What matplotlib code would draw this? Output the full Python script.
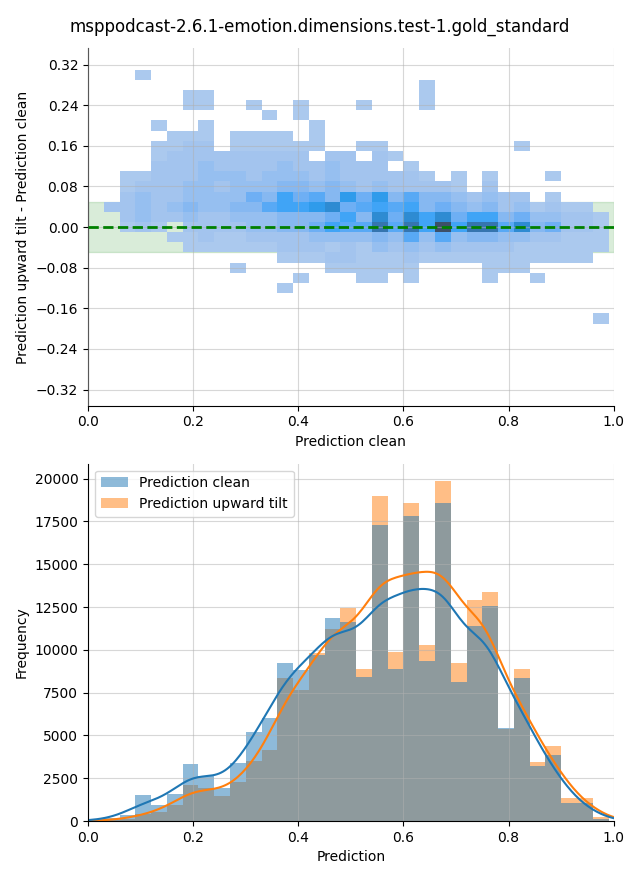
import numpy as np
import matplotlib
matplotlib.use("Agg")
import matplotlib.pyplot as plt
from matplotlib.colors import LinearSegmentedColormap
from matplotlib.patches import Patch

title = "msppodcast-2.6.1-emotion.dimensions.test-1.gold_standard"

# bin edges shared by both panels (prediction axis)
pred_edges = np.linspace(0.0, 0.99, 34)
diff_edges = np.linspace(-0.19, 0.31, 26)

# 2D histogram of (clean, tilt - clean), relative density per cell, top row = 0.30
cell_level = [
    # 0  1  2  3  4  5  6  7  8  9 10 11 12 13 14 15 16 17 18 19 20 21 22 23 24 25 26 27 28 29 30 31 32
    [0, 0, 0, 1, 0, 0, 0, 0, 0, 0, 0, 0, 0, 0, 0, 0, 0, 0, 0, 0, 0, 0, 0, 0, 0, 0, 0, 0, 0, 0, 0, 0, 0],  # 0.30
    [0, 0, 0, 0, 0, 0, 0, 0, 0, 0, 0, 0, 0, 0, 0, 0, 0, 0, 0, 0, 0, 1, 0, 0, 0, 0, 0, 0, 0, 0, 0, 0, 0],  # 0.28
    [0, 0, 0, 0, 0, 0, 1, 1, 0, 0, 0, 0, 0, 0, 0, 0, 0, 0, 0, 0, 0, 1, 0, 0, 0, 0, 0, 0, 0, 0, 0, 0, 0],  # 0.26
    [0, 0, 0, 0, 0, 0, 1, 1, 0, 0, 1, 0, 0, 1, 0, 0, 0, 1, 0, 0, 0, 1, 0, 0, 0, 0, 0, 0, 0, 0, 0, 0, 0],  # 0.24
    [0, 0, 0, 0, 0, 0, 0, 0, 0, 0, 0, 1, 0, 1, 0, 0, 0, 0, 0, 0, 0, 0, 0, 0, 0, 0, 0, 0, 0, 0, 0, 0, 0],  # 0.22
    [0, 0, 0, 0, 1, 0, 0, 1, 0, 0, 0, 0, 0, 0, 1, 0, 0, 0, 0, 0, 0, 0, 0, 0, 0, 0, 0, 0, 0, 0, 0, 0, 0],  # 0.20
    [0, 0, 0, 0, 0, 1, 1, 1, 0, 1, 1, 1, 1, 0, 1, 0, 0, 0, 0, 0, 0, 0, 0, 0, 0, 0, 0, 0, 0, 0, 0, 0, 0],  # 0.18
    [0, 0, 0, 0, 1, 1, 2, 2, 0, 1, 1, 1, 1, 1, 1, 0, 0, 1, 1, 0, 0, 0, 0, 0, 0, 0, 0, 1, 0, 0, 0, 0, 0],  # 0.16
    [0, 0, 0, 0, 1, 2, 2, 2, 2, 2, 2, 2, 2, 2, 0, 2, 2, 0, 2, 1, 0, 0, 0, 0, 0, 0, 0, 0, 0, 0, 0, 0, 0],  # 0.14
    [0, 0, 0, 0, 2, 2, 2, 3, 2, 2, 2, 2, 3, 2, 2, 3, 2, 2, 2, 0, 1, 0, 0, 0, 0, 0, 0, 0, 0, 0, 0, 0, 0],  # 0.12
    [0, 0, 1, 1, 2, 2, 2, 3, 3, 3, 2, 3, 3, 3, 2, 3, 2, 2, 2, 2, 2, 1, 0, 1, 0, 1, 0, 0, 0, 1, 0, 0, 0],  # 0.10
    [0, 0, 1, 2, 2, 2, 3, 3, 2, 3, 3, 3, 4, 4, 3, 4, 3, 2, 3, 2, 2, 2, 2, 1, 0, 2, 0, 0, 0, 0, 0, 0, 0],  # 0.08
    [0, 0, 2, 3, 2, 2, 3, 3, 3, 3, 5, 4, 7, 5, 6, 4, 8, 5, 8, 4, 6, 4, 4, 3, 2, 3, 2, 2, 0, 1, 0, 0, 0],  # 0.06
    [0, 2, 2, 3, 2, 3, 4, 3, 3, 4, 4, 6, 7, 7, 8, 9, 5, 6, 7, 6, 7, 4, 5, 4, 3, 4, 2, 3, 1, 2, 1, 1, 0],  # 0.04
    [0, 0, 2, 3, 2, 2, 3, 2, 2, 3, 3, 3, 4, 4, 4, 5, 7, 4, 9, 5, 9, 7, 9, 5, 7, 7, 4, 5, 3, 3, 2, 2, 1],  # 0.02
    [0, 0, 1, 2, 1, 0, 2, 2, 2, 2, 3, 3, 4, 4, 5, 7, 6, 6, 10, 6, 10, 7, 11, 7, 10, 10, 6, 9, 4, 5, 2, 2, 1],  # 0.00
    [0, 0, 0, 0, 0, 1, 1, 2, 1, 1, 2, 2, 2, 2, 3, 3, 3, 3, 4, 3, 6, 3, 6, 3, 4, 4, 3, 3, 2, 2, 1, 1, 1],  # -0.02
    [0, 0, 0, 0, 0, 0, 1, 1, 1, 1, 1, 1, 2, 2, 2, 1, 2, 1, 3, 2, 3, 2, 3, 2, 2, 2, 2, 1, 1, 1, 1, 1, 1],  # -0.04
    [0, 0, 0, 0, 0, 0, 0, 0, 0, 0, 0, 0, 1, 1, 1, 2, 2, 1, 1, 1, 2, 1, 1, 1, 1, 1, 1, 1, 1, 1, 1, 1, 0],  # -0.06
    [0, 0, 0, 0, 0, 0, 0, 0, 0, 1, 0, 0, 0, 0, 0, 1, 1, 1, 1, 1, 1, 0, 0, 0, 0, 1, 1, 1, 0, 0, 0, 0, 0],  # -0.08
    [0, 0, 0, 0, 0, 0, 0, 0, 0, 0, 0, 0, 0, 1, 0, 0, 0, 1, 1, 0, 1, 0, 0, 0, 0, 1, 0, 0, 1, 0, 0, 0, 0],  # -0.10
    [0, 0, 0, 0, 0, 0, 0, 0, 0, 0, 0, 0, 1, 0, 0, 0, 0, 0, 0, 0, 0, 0, 0, 0, 0, 0, 0, 0, 0, 0, 0, 0, 0],  # -0.12
    [0, 0, 0, 0, 0, 0, 0, 0, 0, 0, 0, 0, 0, 0, 0, 0, 0, 0, 0, 0, 0, 0, 0, 0, 0, 0, 0, 0, 0, 0, 0, 0, 0],  # -0.14
    [0, 0, 0, 0, 0, 0, 0, 0, 0, 0, 0, 0, 0, 0, 0, 0, 0, 0, 0, 0, 0, 0, 0, 0, 0, 0, 0, 0, 0, 0, 0, 0, 0],  # -0.16
    [0, 0, 0, 0, 0, 0, 0, 0, 0, 0, 0, 0, 0, 0, 0, 0, 0, 0, 0, 0, 0, 0, 0, 0, 0, 0, 0, 0, 0, 0, 0, 0, 1],  # -0.18
]

# histogram counts per prediction bin
count_clean = [50, 150, 350, 1520, 940, 1580, 3330, 2650, 1910, 3390, 5180, 6000, 9220, 8830,
               9700, 11850, 11600, 8440, 17310, 8890, 17840, 9360, 18560, 8150, 11420, 12570,
               5450, 8380, 3230, 3860, 1070, 1070, 130]
count_tilt = [20, 60, 100, 410, 550, 940, 2100, 1930, 1460, 2300, 3520, 4150, 8340, 7660,
              9800, 11230, 12450, 8890, 18970, 9900, 18600, 10290, 19880, 9240, 12920, 13390,
              5400, 8890, 3450, 4390, 1340, 1340, 250]


def weighted_kde(centers, counts, bw, grid):
    # gaussian kde of the binned counts, scaled to counts per bin
    counts = np.asarray(counts, dtype=float)
    binw = centers[1] - centers[0]
    z = (grid[:, None] - centers[None, :]) / bw
    dens = (np.exp(-0.5 * z ** 2) * counts).sum(axis=1) / (bw * np.sqrt(2 * np.pi))
    return dens * binw


fig, (ax1, ax2) = plt.subplots(2, 1, figsize=(6.4, 8.8), dpi=100)
fig.subplots_adjust(left=0.1375, right=0.959, top=0.945, bottom=0.067, hspace=0.162)
fig.suptitle(title, fontsize=12)

# --- top panel: difference vs clean prediction
levels = np.array(cell_level, dtype=float)[::-1]
levels = np.ma.masked_equal(levels, 0)
cmap = LinearSegmentedColormap.from_list(
    "cells",
    ["#abc9ee", "#a3c4ee", "#96bff0", "#86b8f1", "#6eaff4", "#58a9f5",
     "#40a4f6", "#2f9beb", "#2e8bd2", "#3576b0", "#3d5068"])

ax1.axhspan(-0.05, 0.05, color="green", alpha=0.15, zorder=0.5)
ax1.pcolormesh(pred_edges, diff_edges, levels, cmap=cmap, vmin=1, vmax=11, zorder=1)
ax1.axhline(0, color="green", linestyle="--", linewidth=2, zorder=3)
ax1.set_xlim(0, 1)
ax1.set_ylim(-0.352, 0.352)
ax1.set_yticks(np.arange(-0.32, 0.33, 0.08))
ax1.set_axisbelow(False)
ax1.grid(True, alpha=0.5)
ax1.set_xlabel("Prediction clean")
ax1.set_ylabel("Prediction upward tilt - Prediction clean")

# --- bottom panel: histograms with kde
centers = (pred_edges[:-1] + pred_edges[1:]) / 2
grid = np.linspace(-0.1, 1.1, 300)
ax2.hist(centers, bins=pred_edges, weights=count_tilt, color="C1", alpha=0.5)
ax2.hist(centers, bins=pred_edges, weights=count_clean, color="C0", alpha=0.5)
ax2.plot(grid, weighted_kde(centers, count_tilt, 0.035, grid), color="C1", lw=1.5)
ax2.plot(grid, weighted_kde(centers, count_clean, 0.035, grid), color="C0", lw=1.5)
ax2.set_xlim(0, 1)
ax2.set_ylim(0, max(max(count_clean), max(count_tilt)) * 1.05)
ax2.grid(True, alpha=0.5)
ax2.set_xlabel("Prediction")
ax2.set_ylabel("Frequency")
handles = [Patch(facecolor="C0", alpha=0.5, label="Prediction clean"),
           Patch(facecolor="C1", alpha=0.5, label="Prediction upward tilt")]
ax2.legend(handles=handles, loc="upper left")

for ax in (ax1, ax2):
    ax.spines["top"].set_visible(False)
    ax.spines["right"].set_visible(False)

plt.savefig("out.png")
